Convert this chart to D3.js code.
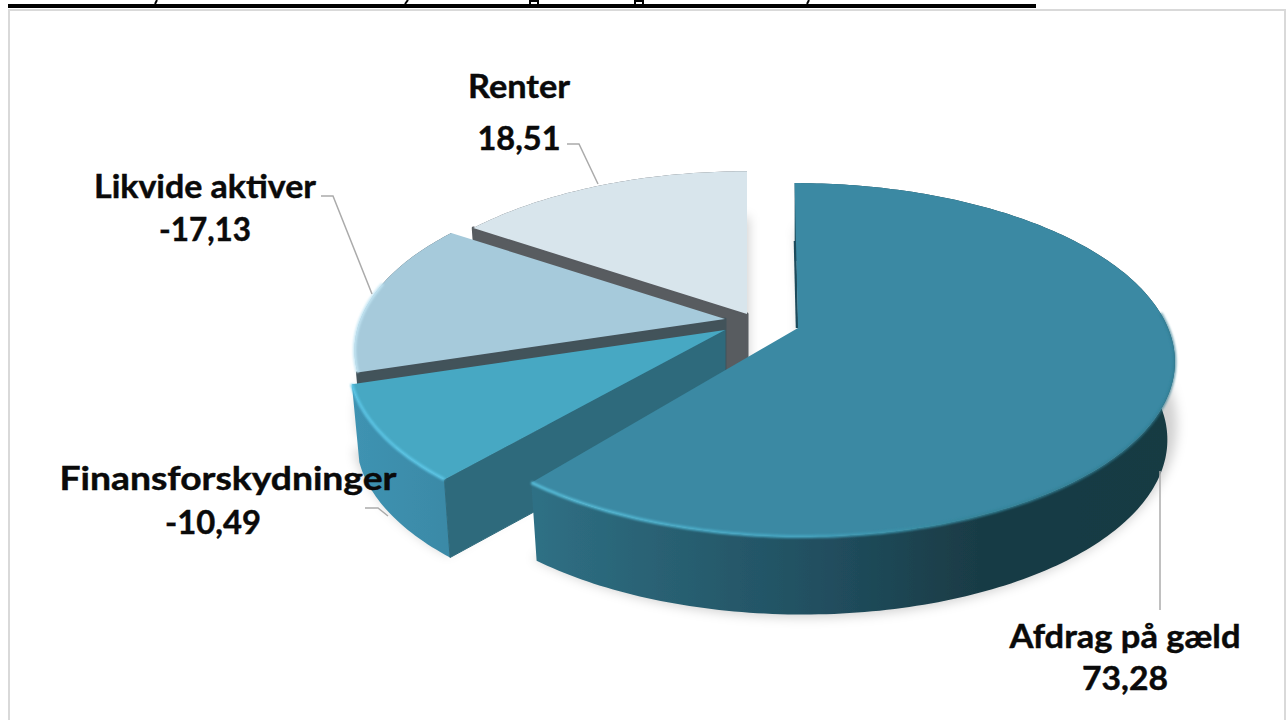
<!DOCTYPE html>
<html><head><meta charset="utf-8">
<script src="https://cdn.jsdelivr.net/npm/d3@7/dist/d3.min.js"></script>
<style>html,body{margin:0;padding:0;background:#fff;overflow:hidden}svg{display:block}
text{font-family:Lato,"Open Sans",sans-serif;font-weight:700;fill:#0a0a0a;stroke:#0a0a0a;stroke-width:.45px}</style>
</head><body><svg id="c" width="1288" height="720"></svg>
<script>
// ---- data
const categories = ["Afdrag på gæld","Finansforskydninger","Likvide aktiver","Renter"];
const sliceSizes = [73.28,10.49,17.13,18.51];       // absolute sizes, pie order clockwise from 12 o'clock
const valueLabels = ["73,28","-10,49","-17,13","18,51"];

// ---- layout / style (separate from the data)
const topColors  = ["#3A89A3","#47A8C3","#A6CADB","#D8E5EC"];
const cutColors  = ["#1F4B5B","#2E6A7C","#43525A","#585B60"];
const apexes = [[798,328],[725,330],[725,319],[747,314]];
const tilt = [4,0,0,0];
const radial = [1,1,.985,.985];
const endTrim = [2,0,0,0];                // degrees: the front slice's chamfered corner
const A=370,B=171,P=0.18,DROP=78,SHRINK=0.98;
const labelBoxes = [
 {cx:1125,w:231,y1:648,y2:690,w2:86},
 {cx:228,w:337,y1:490,y2:534,w2:96,cx2:213},
 {cx:205,w:222,y1:198,y2:241,w2:92},
 {cx:519,w:102,y1:98,y2:150,w2:83}];
const leaders = [
 [[1160,471],[1160,610]],
 [[365,508],[378,508],[388,516]],
 [[321,196],[333,196],[372,294]],
 [[567,144],[579,144],[598,184]]];
const titleStubs=[[157,0,155,4],[408,0,405,4],[530,1,530,4],[538,1,538,4],[529,1,539,1],[635,1,635,4],[643,1,643,4],[634,1,644,1],[809,0,807,4]];

const svg=d3.select("#c");
const defs=svg.append("defs");
function grad(id,stops,x1,x2){
  const g=defs.append("linearGradient").attr("id",id).attr("gradientUnits","userSpaceOnUse")
    .attr("x1",x1).attr("x2",x2).attr("y1",0).attr("y2",0);
  stops.forEach(s=>g.append("stop").attr("offset",s[0]).attr("stop-color",s[1]).attr("stop-opacity",s[2]==null?1:s[2]));
}
grad("wall0",[[0,"#2F7085"],[.2,"#296173"],[.45,"#214F60"],[.7,"#193B45"],[1,"#193A43"]],533,1170);
grad("wall1",[[0,"#3F93B2"],[1,"#3A89A6"]],351,453);
grad("bev0",[[0,"#58BEDA"],[.42,"#44A5C1"],[.68,"#348499"],[1,"#2F7A90",.7]],531,1175);
const blur=(id,s)=>defs.append("filter").attr("id",id).attr("x","-20%").attr("y","-20%").attr("width","140%").attr("height","140%")
   .append("feGaussianBlur").attr("stdDeviation",s);
blur("sh",5.5); blur("soft",1.1); blur("edge",0.35);

// frame and the cut-off line above it
svg.append("rect").attr("x",9).attr("y",10).attr("width",1276).attr("height",740)
  .attr("fill","#fff").attr("stroke","#D9D9D9").attr("stroke-width",2);
svg.append("rect").attr("x",8).attr("y",4).attr("width",1028).attr("height",4).attr("fill","#000");
svg.append("g").selectAll("line").data(titleStubs).join("line")
  .attr("x1",d=>d[0]).attr("y1",d=>d[1]).attr("x2",d=>d[2]).attr("y2",d=>d[3])
  .attr("stroke","#000").attr("stroke-width",2);

// pie layout from the values
const arcs=d3.pie().sort(null).value(d=>d).startAngle(0).endAngle(2*Math.PI)(sliceSizes);
const rad=d=>d*Math.PI/180;
function proj(i,a){
  const u=Math.sin(a),t=-Math.cos(a),w=1/(1-P*t),r=radial[i];
  return [apexes[i][0]+r*A*u*w+tilt[i]*t*w, apexes[i][1]+r*B*t*w];
}
const down=(i,p)=>[apexes[i][0]+(p[0]-apexes[i][0])*SHRINK,p[1]+DROP];
function ring(i,a0,a1){
  const n=Math.max(2,Math.ceil(Math.abs(a1-a0)/rad(1)));
  return d3.range(n+1).map(k=>proj(i,a0+(a1-a0)*k/n));
}
const line=d3.line(), ends=arcs.map((d,i)=>[d.startAngle,d.endAngle-rad(endTrim[i])]);
const apexDown=i=>[apexes[i][0],apexes[i][1]+DROP];

// shadows
const shadow=svg.append("g").attr("filter","url(#sh)");
arcs.forEach((d,i)=>{
  const pts=[apexes[i],...ring(i,ends[i][0],ends[i][1])].map(p=>[
    apexes[i][0]+(p[0]-apexes[i][0])*1.0+2, apexes[i][1]+(p[1]-apexes[i][1])*1.1+60]);
  shadow.append("path").attr("d",line(pts)+"Z").attr("fill","#000").attr("opacity",.18);
});

// slices back to front
const order=[3,2,1,0];
const g=svg.append("g");
order.forEach(i=>{
  const [a0,a1]=ends[i], outer=ring(i,a0,a1), s=g.append("g").attr("filter","url(#edge)");
  const corner=outer[0];
  // outer wall
  const wall=[...outer,...outer.slice().reverse().map(p=>down(i,p))];
  s.append("path").attr("d",line(wall)+"Z")
    .attr("fill", i===0?"url(#wall0)":i===1?"url(#wall1)":cutColors[i]);
  // cut wall facing the viewer (clockwise-start edge of the left slices)
  if(i>0){
    const quad=[apexes[i],corner,down(i,corner),apexDown(i)];
    s.append("path").attr("d",line(quad)+"Z").attr("fill",cutColors[i])
      .attr("stroke",cutColors[i]).attr("stroke-width",i>1?3:1).attr("stroke-linejoin","round");
  } else {
    const far=outer[0], mid=[far[0]+(apexes[0][0]-far[0])*.4,far[1]+(apexes[0][1]-far[1])*.4];
    s.append("path").attr("d",line([mid,apexes[0]])).attr("stroke","#1F4B5B").attr("stroke-width",2.5).attr("fill","none")
      .attr("transform","translate(-1,0)");
  }
  // top face
  s.append("path").attr("d",line([apexes[i],...outer])+"Z").attr("fill",topColors[i]);
  // bevel highlights
  if(i===0) g.append("path").attr("d",line(ring(0,rad(85),a1))).attr("fill","none")
     .attr("stroke","url(#bev0)").attr("stroke-width",3).attr("filter","url(#soft)");
  if(i===1) g.append("path").attr("d",line(outer)).attr("fill","none")
     .attr("stroke","#5CC6E6").attr("stroke-width",3).attr("filter","url(#soft)");
  if(i===2) g.append("path").attr("d",line(ring(2,a0,a0+rad(30)))).attr("fill","none")
     .attr("stroke","#C4E6F4").attr("stroke-width",3).attr("filter","url(#soft)");
});

// leaders
svg.append("g").selectAll("path").data(leaders).join("path")
  .attr("d",d=>line(d)).attr("fill","none").attr("stroke","#ABABAB").attr("stroke-width",1.5);

// labels
const lab=svg.append("g").attr("font-size",32.5);
categories.forEach((c,i)=>{
  const b=labelBoxes[i], cx2=b.cx2==null?b.cx:b.cx2;
  lab.append("text").attr("x",b.cx-b.w/2).attr("y",b.y1).attr("textLength",b.w)
    .attr("lengthAdjust","spacingAndGlyphs").text(c);
  lab.append("text").attr("x",cx2-b.w2/2).attr("y",b.y2).attr("textLength",b.w2)
    .attr("lengthAdjust","spacingAndGlyphs").text(valueLabels[i]);
});
</script></body></html>
